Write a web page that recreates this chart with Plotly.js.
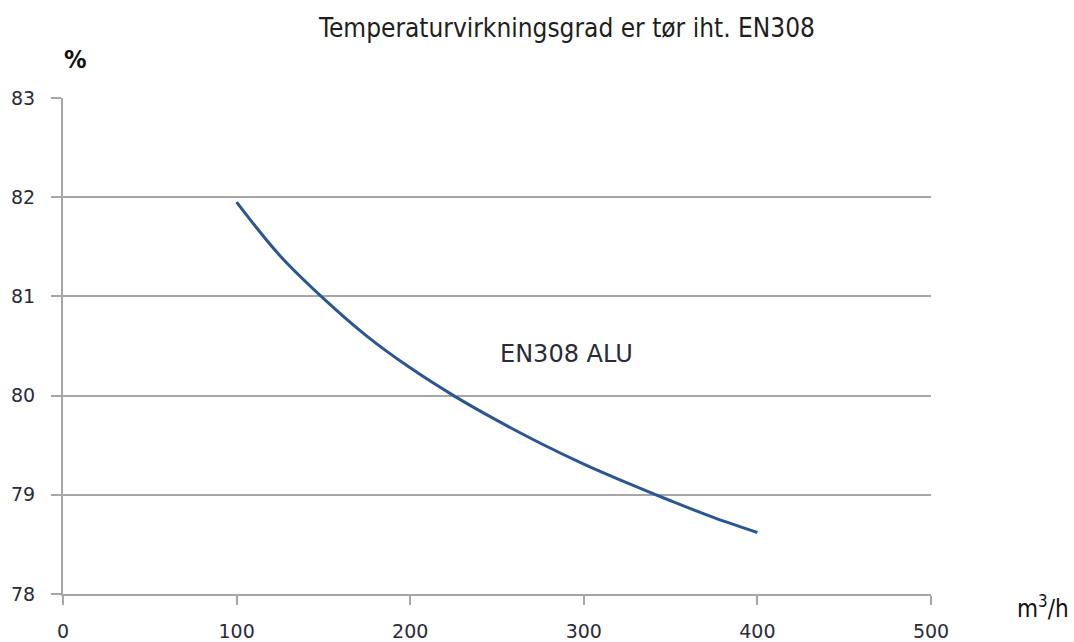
<!DOCTYPE html>
<html>
<head>
<meta charset="utf-8">
<script src="https://cdn.plot.ly/plotly-3.0.1.min.js"></script>
<style>html,body{margin:0;padding:0;background:#fff;}#chart{width:1074px;height:642px;}</style>
</head>
<body>
<div id="chart"></div>
<script>
const airflow = [100, 125, 150, 175, 200, 225, 250, 275, 300, 325, 350, 375, 400];
const efficiency = [81.95, 81.41, 80.98, 80.60, 80.28, 80.00, 79.75, 79.52, 79.31, 79.12, 78.94, 78.77, 78.62];
const seriesLabel = "EN308 ALU";
const xTicks = [0, 100, 200, 300, 400, 500];
const yTicks = [78, 79, 80, 81, 82, 83];

const tickFont = {family: 'DejaVu Sans', size: 19, color: '#2a2a3a'};
const headFont = 'DejaVu Sans Condensed';

const trace = {
  x: airflow, y: efficiency, type: 'scatter', mode: 'lines',
  line: {color: '#2b5690', width: 3, shape: 'spline'},
  hoverinfo: 'skip'
};
const L = 63, R = 143, T = 98, B = 48, W = 1074, H = 642;
const pw = W - L - R, ph = H - T - B;
const px = v => (v - L) / pw;
const py = v => (H - B - v) / ph;
const layout = {
  width: W, height: H,
  margin: {l: L, r: R, t: T, b: B},
  paper_bgcolor: '#fff', plot_bgcolor: '#fff',
  showlegend: false,
  title: {text: 'Temperaturvirkningsgrad er tør iht. EN308', x: 567 / W, xanchor: 'center', y: 1 - 28 / H, yanchor: 'middle',
          font: {family: headFont, size: 26, color: '#1e1e1e'}},
  xaxis: {range: [0, 500], tickvals: xTicks, ticktext: xTicks.map(String), showgrid: false, zeroline: false,
          showline: true, linecolor: '#a6a6a6', linewidth: 2, ticks: 'outside', ticklen: 9, tickcolor: '#a6a6a6', tickwidth: 2,
          ticklabelstandoff: 10,
          tickfont: tickFont, fixedrange: true},
  yaxis: {range: [78, 83], tickvals: yTicks, ticktext: yTicks.map(String), showgrid: true, gridcolor: '#a6a6a6', gridwidth: 2,
          zeroline: false, showline: true, linecolor: '#a6a6a6', linewidth: 2, ticks: 'outside', ticklen: 10, tickcolor: '#a6a6a6', tickwidth: 2,
          ticklabelstandoff: 12,
          tickfont: tickFont, fixedrange: true},
  annotations: [
    {text: seriesLabel, x: 290, y: 80.42, xref: 'x', yref: 'y', showarrow: false, xanchor: 'center', yanchor: 'middle',
     font: {family: 'DejaVu Sans', size: 24, color: '#2a2a3a'}},
    {text: '<b>%</b>', x: px(75), y: py(60), xref: 'paper', yref: 'paper', showarrow: false, xanchor: 'center', yanchor: 'middle',
     font: {family: headFont, size: 25, color: '#111'}},
    {text: 'm<sup>3</sup>/h', x: px(1043), y: py(607), xref: 'paper', yref: 'paper', showarrow: false, xanchor: 'center', yanchor: 'middle',
     font: {family: headFont, size: 24, color: '#111'}}
  ]
};
Plotly.newPlot('chart', [trace], layout, {displayModeBar: false, staticPlot: true});
</script>
</body>
</html>
